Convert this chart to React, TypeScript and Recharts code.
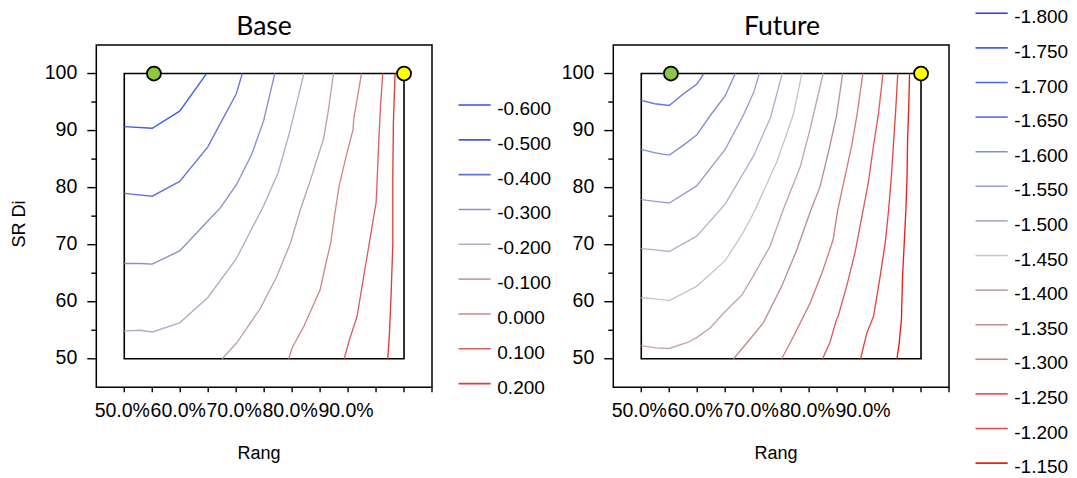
import React from 'react';
import { LineChart, Line, XAxis, YAxis, ReferenceArea, ReferenceDot, Legend } from 'recharts';

const FONT = '"Liberation Sans", Arial, sans-serif';

const xTicks = [50, 55, 60, 65, 70, 75, 80, 85, 90, 95, 100, 105];
const xLabelValues = [50, 60, 70, 80, 90];
const yTicks = [50, 55, 60, 65, 70, 75, 80, 85, 90, 95, 100];
const yLabelValues = [50, 60, 70, 80, 90, 100];

const baseLevels = ['-0.600', '-0.500', '-0.400', '-0.300', '-0.200', '-0.100', '0.000', '0.100', '0.200'];
const baseColors = ['#2f4df2', '#405ce9', '#6274dd', '#8690cc', '#aeaec8', '#bfa2a2', '#d08888', '#dc6060', '#e83838'];

const futureLevels = ['-1.800', '-1.750', '-1.700', '-1.650', '-1.600', '-1.550', '-1.500', '-1.450', '-1.400', '-1.350', '-1.300', '-1.250', '-1.200', '-1.150'];
const futureColors = ['#1f3ff5', '#4360ee', '#5066e0', '#6678e0', '#7e8ed8', '#989ed0', '#aeb2cc', '#c6c6c6', '#c6a4a4', '#c08c8c', '#d47c7c', '#e05c5c', '#e84444', '#f01c1c'];

// Base contours: [Rang %, SR Di]
const baseM050 = [[50, 90.7], [55, 90.4], [59.9, 93.4], [64.7, 100]];
const baseM040 = [[50, 79.0], [55, 78.5], [59.9, 81.1], [64.9, 87.1], [70.0, 96.4], [71.1, 100]];
const baseM030 = [[50, 66.7], [52.9, 66.7], [55, 66.6], [59.9, 68.9], [64.9, 74.1], [67.2, 76.5], [70.1, 80.6], [72.8, 85.9], [74.9, 91.7], [76.9, 100]];
const baseM020 = [[50, 54.9], [52.9, 55.0], [55, 54.7], [59.9, 56.3], [64.9, 60.7], [70.0, 67.5], [74.9, 76.8], [77.5, 82.6], [79.6, 89.9], [82.1, 100]];
const baseM010 = [[67.5, 50], [70.1, 52.8], [74.3, 58.8], [77.3, 64.5], [79.7, 70.3], [81.5, 76.2], [83.3, 81.4], [85.6, 88.5], [86.4, 93], [87.4, 100]];
const base000 = [[79.4, 50], [80.0, 51.9], [82.1, 55.7], [85.0, 62.1], [86.2, 67.4], [86.9, 70.3], [87.6, 75.2], [88.4, 80.3], [89.8, 86.1], [90.9, 90.2], [91.0, 92.0], [92.4, 100]];
const base010 = [[89.3, 50], [90.3, 53.5], [91.6, 57.4], [92.8, 64.5], [93.7, 69.7], [94.6, 75.0], [95.0, 77.3], [95.1, 79.0], [95.5, 88.5], [95.8, 94.3], [96.2, 100]];
const base020 = [[97.1, 50], [97.4, 54.5], [97.7, 61.5], [98.0, 70.3], [98.0, 76.2], [98.0, 82.6], [98.1, 91.4], [98.3, 97.2], [98.4, 100]];

// Future contours
const futM165 = [[50, 95.3], [52.4, 94.7], [55, 94.4], [57.5, 96.4], [59.9, 98.1], [61.2, 100]];
const futM160 = [[50, 86.7], [52.5, 86.1], [55, 85.7], [57.5, 87.4], [59.9, 89.2], [62.3, 92.6], [65, 96.1], [66.8, 100]];
const futM155 = [[50, 77.9], [52.5, 77.6], [55, 77.3], [59.9, 80.3], [65, 86.7], [68.2, 92.6], [70.1, 96.7], [71.1, 100]];
const futM150 = [[50, 69.3], [52.5, 69.1], [55, 68.8], [59.9, 71.5], [65, 77.1], [70.1, 85.6], [73.1, 92.3], [75.2, 100]];
const futM145 = [[50, 60.7], [52.5, 60.5], [55, 60.2], [59.9, 62.7], [65, 67.2], [68.2, 72.1], [70.2, 75.8], [74.3, 84.7], [77.2, 92.9], [78.7, 100]];
const futM140 = [[50, 52.3], [52.5, 51.9], [55, 51.8], [58.4, 52.9], [59.9, 53.7], [62.3, 55.4], [65, 58.3], [68, 61.2], [70, 64.5], [73, 69.7], [75.4, 76.2], [78.4, 83.6], [80.1, 90], [80.3, 90.8], [82.5, 100]];
const futM135 = [[66.5, 50], [68.9, 52.8], [71.8, 56.3], [75.1, 62.7], [77.8, 69.1], [80.1, 75.5], [82, 80.3], [83.7, 87.3], [84.9, 92.6], [86, 100]];
const futM130 = [[75.1, 50], [77.2, 53.9], [80.2, 59.8], [82.5, 65.6], [84.3, 70.9], [85.1, 76], [86.2, 81], [87.6, 87.3], [88.6, 93], [89.6, 100]];
const futM125 = [[82.4, 50], [83.7, 52.8], [84.9, 56.9], [85.2, 57.5], [86.7, 62.7], [88.2, 68.6], [89.6, 75.8], [90.6, 81], [91.5, 87.3], [92.4, 93], [93.2, 100]];
const futM120 = [[89.2, 50], [90.3, 54.5], [91.5, 57.4], [92.7, 64.5], [93.6, 70.3], [94.2, 76], [94.7, 82], [95.05, 87.3], [95.5, 94], [95.85, 100]];
const futM115 = [[95.7, 50], [96.1, 52.8], [96.5, 56.9], [96.7, 64.5], [97, 70.3], [97.3, 76.2], [97.5, 82], [97.6, 88.5], [97.8, 94], [97.95, 100]];

const baseSeries = [
  { level: '-0.500', pts: baseM050 },
  { level: '-0.400', pts: baseM040 },
  { level: '-0.300', pts: baseM030 },
  { level: '-0.200', pts: baseM020 },
  { level: '-0.100', pts: baseM010 },
  { level: '0.000', pts: base000 },
  { level: '0.100', pts: base010 },
  { level: '0.200', pts: base020 },
];
const futureSeries = [
  { level: '-1.650', pts: futM165 },
  { level: '-1.600', pts: futM160 },
  { level: '-1.550', pts: futM155 },
  { level: '-1.500', pts: futM150 },
  { level: '-1.450', pts: futM145 },
  { level: '-1.400', pts: futM140 },
  { level: '-1.350', pts: futM135 },
  { level: '-1.300', pts: futM130 },
  { level: '-1.250', pts: futM125 },
  { level: '-1.200', pts: futM120 },
  { level: '-1.150', pts: futM115 },
];

const greenPoint = { x: 55.3, y: 100 };
const yellowPoint = { x: 100, y: 100 };

function YTick(props: any) {
  const { x, y, payload } = props;
  const v = payload.value as number;
  const major = yLabelValues.includes(v);
  return (
    <g>
      <line x1={x} x2={x - (major ? 9 : 5)} y1={y} y2={y} stroke="#000" strokeWidth={1.4} />
      {major && (
        <text x={x - 19} y={y + 5.5} textAnchor="end" fontSize={19.5} fontFamily={FONT} fill="#000">
          {v}
        </text>
      )}
    </g>
  );
}

function XTick(props: any) {
  const { x, y, payload } = props;
  const v = payload.value as number;
  const lab = xLabelValues.includes(v);
  return (
    <g>
      <line x1={x} x2={x} y1={y} y2={y + 5} stroke="#000" strokeWidth={1.4} />
      {lab && (
        <text x={x - 2} y={y + 29.5} textAnchor="middle" fontSize={19.5} fontFamily={FONT} fill="#000">
          {v.toFixed(1) + '%'}
        </text>
      )}
    </g>
  );
}

function LegendBox({ levels, colors, top, step }: { levels: string[]; colors: string[]; top: number; step: number }) {
  return (
    <svg width={140} height={478} style={{ display: 'block' }}>
      {levels.map((l, i) => {
        const y = top + step * i;
        return (
          <g key={l}>
            <line x1={18.5} x2={50.7} y1={y} y2={y} stroke={colors[i]} strokeWidth={1.6} />
            <text x={57.3} y={y + 10} fontSize={19} fontFamily={FONT} fill="#000">
              {l}
            </text>
          </g>
        );
      })}
    </svg>
  );
}

function Panel({ series, levels, colors, legendTop, legendStep }: any) {
  return (
    <LineChart width={560} height={478} margin={{ top: 45, right: 128, left: 0, bottom: 0 }}>
      <XAxis
        type="number"
        dataKey="x"
        domain={[45, 105]}
        allowDataOverflow
        ticks={xTicks}
        interval={0}
        tick={<XTick />}
        tickLine={false}
        axisLine={false}
        tickSize={0}
        tickMargin={0}
        height={90.7}
      />
      <YAxis
        type="number"
        domain={[45, 105]}
        allowDataOverflow
        ticks={yTicks}
        interval={0}
        tick={<YTick />}
        tickLine={false}
        axisLine={false}
        tickSize={0}
        tickMargin={0}
        width={96.3}
      />
      <ReferenceArea x1={45} x2={105} y1={45} y2={105} fill="none" fillOpacity={0} stroke="#000" strokeWidth={1.5} />
      {series.map((s: any) => (
        <Line
          key={s.level}
          data={s.pts.map((p: number[]) => ({ x: p[0], y: p[1] }))}
          dataKey="y"
          stroke={colors[levels.indexOf(s.level)]}
          strokeWidth={1.35}
          dot={false}
          activeDot={false}
          isAnimationActive={false}
        />
      ))}
      <ReferenceArea x1={50} x2={100} y1={50} y2={100} fill="none" fillOpacity={0} stroke="#000" strokeWidth={1.6} />
      <ReferenceDot x={greenPoint.x} y={greenPoint.y} r={7} fill="#8DC63F" stroke="#000" strokeWidth={1.8} />
      <ReferenceDot x={yellowPoint.x} y={yellowPoint.y} r={7} fill="#FFFF00" stroke="#000" strokeWidth={1.8} />
      <Legend
        layout="vertical"
        align="center"
        verticalAlign="middle"
        wrapperStyle={{ left: 440, top: 0, width: 140, height: 478 }}
        content={() => <LegendBox levels={levels} colors={colors} top={legendTop} step={legendStep} />}
      />
    </LineChart>
  );
}

export default function App() {
  return (
    <div style={{ position: 'absolute', left: 0, top: 0, width: 1077, height: 478, background: '#fff', overflow: 'hidden' }}>
      <div style={{ position: 'absolute', left: 0, top: 0 }}>
        <Panel series={baseSeries} levels={baseLevels} colors={baseColors} legendTop={105} legendStep={34.83} />
      </div>
      <div style={{ position: 'absolute', left: 517, top: 0 }}>
        <Panel series={futureSeries} levels={futureLevels} colors={futureColors} legendTop={13.3} legendStep={34.6} />
      </div>
      <svg width={1077} height={478} style={{ position: 'absolute', left: 0, top: 0, pointerEvents: 'none' }}>
        <text x={264} y={35} textAnchor="middle" fontSize={26.5} fontFamily="Lato, sans-serif" fill="#000">Base</text>
        <text x={782} y={35} textAnchor="middle" fontSize={26.5} fontFamily="Lato, sans-serif" fill="#000">Future</text>
        <text x={259} y={459} textAnchor="middle" fontSize={18} fontFamily={FONT} fill="#000">Rang</text>
        <text x={776} y={459} textAnchor="middle" fontSize={18} fontFamily={FONT} fill="#000">Rang</text>
        <text x={24.5} y={224} transform="rotate(-90 24.5 224)" textAnchor="middle" fontSize={18} fontFamily={FONT} fill="#000">SR Di</text>
      </svg>
    </div>
  );
}
